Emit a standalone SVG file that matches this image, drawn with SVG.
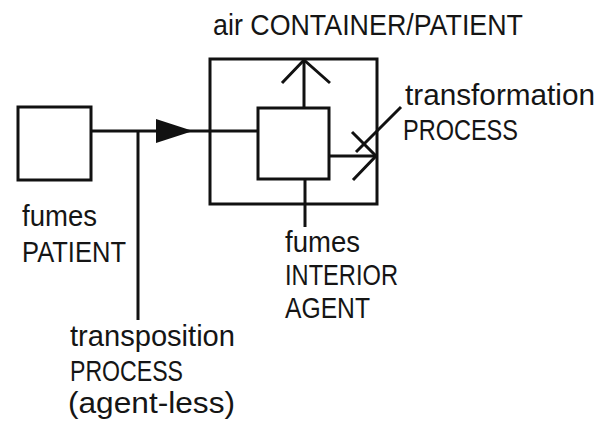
<svg xmlns="http://www.w3.org/2000/svg" width="597" height="421" viewBox="0 0 597 421">
  <style>
    .box { fill: none; stroke: #111; stroke-width: 3; }
    .ln { fill: none; stroke: #111; stroke-width: 3; stroke-linecap: butt; }
    .head { fill: #111; stroke: none; }
    text { font-family: "Liberation Sans", Arial, sans-serif; font-size: 29px; fill: #151515; }
  </style>
  <rect width="597" height="421" fill="#fff"/>

  <!-- fumes as patient, outside the container -->
  <g id="fumes-patient">
    <rect class="box" x="18" y="107" width="73" height="73"/>
    <text x="22" y="226" textLength="75" lengthAdjust="spacingAndGlyphs">fumes</text>
    <text x="22" y="262" textLength="104" lengthAdjust="spacingAndGlyphs">PATIENT</text>
  </g>

  <!-- air as the containing patient -->
  <g id="air-container">
    <rect class="box" x="210" y="59" width="167" height="145"/>
    <text x="213" y="35" textLength="310" lengthAdjust="spacingAndGlyphs">air CONTAINER/PATIENT</text>
  </g>

  <!-- fumes as interior agent -->
  <g id="fumes-agent">
    <rect class="box" x="258" y="108" width="71" height="71"/>
    <text x="285" y="252" textLength="75" lengthAdjust="spacingAndGlyphs">fumes</text>
    <text x="285" y="285" textLength="113" lengthAdjust="spacingAndGlyphs">INTERIOR</text>
    <text x="285" y="318" textLength="85" lengthAdjust="spacingAndGlyphs">AGENT</text>
  </g>

  <g id="connectors">
    <!-- transposition: patient moved into the container -->
    <line class="ln" x1="91" y1="131" x2="258" y2="131"/>
    <polygon class="head" points="156,119 193,131 156,143"/>
    <line class="ln" x1="138" y1="131" x2="138" y2="320"/>

    <!-- upward arrow inside the container -->
    <line class="ln" x1="304" y1="108" x2="304" y2="60"/>
    <polyline class="ln" points="282,83 304,60 330,83" stroke-linejoin="miter"/>

    <!-- agent tie below the inner box -->
    <line class="ln" x1="305" y1="179" x2="305" y2="227"/>

    <!-- transformation: arrow with slash -->
    <line class="ln" x1="329" y1="156" x2="377" y2="156"/>
    <polyline class="ln" points="352,132 376,156 353,180"/>
    <line class="ln" x1="356" y1="152" x2="401" y2="107"/>
  </g>

  <g id="process-labels">
    <text x="405" y="105" textLength="190" lengthAdjust="spacingAndGlyphs">transformation</text>
    <text x="403" y="140" textLength="115" lengthAdjust="spacingAndGlyphs">PROCESS</text>
    <text x="70" y="346" textLength="165" lengthAdjust="spacingAndGlyphs">transposition</text>
    <text x="70" y="381" textLength="113" lengthAdjust="spacingAndGlyphs">PROCESS</text>
    <text x="68" y="413" textLength="167" lengthAdjust="spacingAndGlyphs">(agent-less)</text>
  </g>
</svg>
